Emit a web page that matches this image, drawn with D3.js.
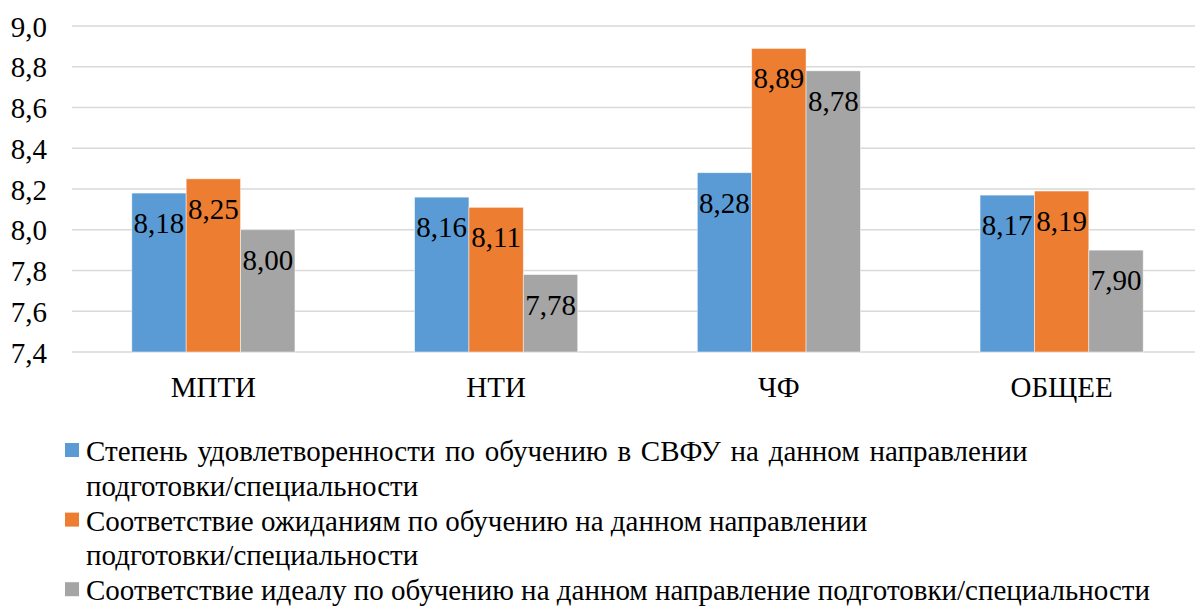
<!DOCTYPE html>
<html><head><meta charset="utf-8">
<script src="https://cdn.jsdelivr.net/npm/d3@7"></script>
</head>
<body style="margin:0;padding:0;background:#fff;">
<svg id="chart" width="1195" height="606" style="display:block"></svg>
<script>
const categories = ["МПТИ", "НТИ", "ЧФ", "ОБЩЕЕ"];
const seriesNames = [
  "Степень удовлетворенности по обучению в СВФУ на данном направлении подготовки/специальности",
  "Соответствие ожиданиям по обучению на данном направлении подготовки/специальности",
  "Соответствие идеалу по обучению на данном направление подготовки/специальности"
];
const legendLines = [
  ["Степень удовлетворенности по обучению в СВФУ на данном направлении", "подготовки/специальности"],
  ["Соответствие ожиданиям по обучению на данном направлении", "подготовки/специальности"],
  ["Соответствие идеалу по обучению на данном направление подготовки/специальности"]
];
const satisfaction = [8.18, 8.16, 8.28, 8.17];
const expectations = [8.25, 8.11, 8.89, 8.19];
const ideal = [8.00, 7.78, 8.78, 7.90];
const yTicks = [7.4, 7.6, 7.8, 8.0, 8.2, 8.4, 8.6, 8.8, 9.0];
const colors = ["#5B9BD5", "#ED7D31", "#A5A5A5"];

const FONT = "'Liberation Serif', Tinos, 'Times New Roman', monospace";
const ctx = document.createElement("canvas").getContext("2d");
ctx.font = "29px " + FONT;
ctx.measureText("Степень 8,18 МПТИ");

const series = [satisfaction, expectations, ideal];
const svg = d3.select("#chart");
const locale = d3.formatLocale({decimal: ",", thousands: " ", grouping: [3], currency: ["", ""]});
const fmt2 = locale.format(".2f"), fmt1 = locale.format(".1f");

function serif(sel) {
  return sel.attr("font-family", FONT).style("font-family", FONT, "important").attr("fill", "#000");
}

const y = d3.scaleLinear().domain([7.4, 9.0]).range([352, 26]);
const x0 = d3.scaleBand().domain(categories).range([72, 1203]).padding(0);
const bw = x0.bandwidth();
const gw = 0.577;
const x1 = d3.scaleBand().domain([0, 1, 2]).range([bw * (1 - gw) / 2, bw * (1 + gw) / 2]).padding(0);

svg.append("g").selectAll("line").data(yTicks).join("line")
  .attr("x1", 72).attr("x2", 1203)
  .attr("y1", d => y(d)).attr("y2", d => y(d))
  .attr("stroke", "#D9D9D9").attr("stroke-width", 1.5);

svg.append("g").selectAll("text").data(yTicks).join("text")
  .attr("x", 47).attr("y", d => y(d) + 10.5)
  .attr("text-anchor", "end").attr("font-size", 29)
  .call(serif)
  .text(d => fmt1(d));

const groups = svg.append("g").selectAll("g").data(categories).join("g")
  .attr("transform", c => `translate(${x0(c)},0)`);
groups.selectAll("rect").data((c, i) => series.map((s, k) => ({k, v: s[i]}))).join("rect")
  .attr("x", d => x1(d.k)).attr("width", x1.bandwidth())
  .attr("y", d => y(d.v)).attr("height", d => y(7.4) - y(d.v))
  .attr("fill", d => colors[d.k])
  .attr("stroke", "#fff").attr("stroke-opacity", 0.6).attr("stroke-width", 0.8);
groups.selectAll("text").data((c, i) => series.map((s, k) => ({k, v: s[i]}))).join("text")
  .attr("x", d => x1(d.k) + x1.bandwidth() / 2)
  .attr("y", d => y(d.v) + 40)
  .attr("text-anchor", "middle").attr("font-size", 29)
  .call(serif)
  .text(d => fmt2(d.v));

svg.append("g").selectAll("text").data(categories).join("text")
  .attr("x", c => x0(c) + bw / 2).attr("y", 397)
  .attr("text-anchor", "middle").attr("font-size", 29)
  .call(serif)
  .text(c => c);

const lineH = 34.8;
let row = 0;
const lg = svg.append("g");
legendLines.forEach((lines, k) => {
  const by = 461 + row * lineH;
  lg.append("rect").attr("x", 65).attr("y", by - 18).attr("width", 14).attr("height", 14).attr("fill", colors[k]);
  lines.forEach((t, j) => {
    const tx = lg.append("text").attr("x", 86).attr("y", by + j * lineH).attr("font-size", 29)
      .call(serif).text(t);
    if (k === 0 && j === 0) tx.style("word-spacing", "2.5px");
  });
  row += lines.length;
});
</script>
</body></html>
